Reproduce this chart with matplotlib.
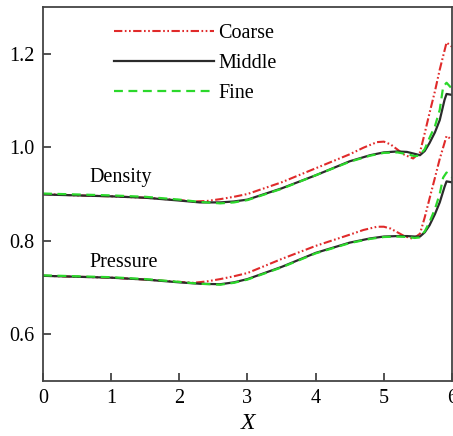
import matplotlib
matplotlib.use("Agg")
import matplotlib.pyplot as plt

plt.rcParams['font.family'] = ['Liberation Serif', 'DejaVu Serif']
plt.rcParams['mathtext.fontset'] = 'stix'

# density curves
x_coarse = [0, 0.5, 1, 1.5, 2, 2.2, 2.4, 2.6, 2.8, 3, 3.5, 4, 4.5, 4.7, 4.9, 5.0,
            5.1, 5.2, 5.3, 5.43, 5.53, 5.6, 5.67, 5.75, 5.82, 5.92, 6.0]
rho_coarse = [0.900, 0.897, 0.895, 0.892, 0.887, 0.884, 0.885, 0.889, 0.894, 0.900,
              0.925, 0.955, 0.985, 0.999, 1.011, 1.012, 1.006, 0.995, 0.984, 0.976,
              0.989, 1.030, 1.073, 1.120, 1.166, 1.224, 1.215]
p_coarse = [0.725, 0.723, 0.721, 0.717, 0.712, 0.710, 0.713, 0.718, 0.724, 0.731,
            0.761, 0.789, 0.813, 0.823, 0.830, 0.830, 0.826, 0.818, 0.810, 0.804,
            0.815, 0.850, 0.890, 0.935, 0.975, 1.024, 1.016]

x_middle = [0, 0.5, 1, 1.5, 2, 2.3, 2.6, 2.8, 3, 3.5, 4, 4.5, 4.8, 5.0, 5.2, 5.34,
            5.45, 5.53, 5.6, 5.67, 5.75, 5.82, 5.89, 5.92, 6.0]
rho_middle = [0.899, 0.897, 0.895, 0.892, 0.886, 0.882, 0.882, 0.884, 0.888, 0.912,
              0.940, 0.970, 0.983, 0.989, 0.991, 0.990, 0.986, 0.983, 0.992, 1.009,
              1.032, 1.058, 1.101, 1.114, 1.112]
p_middle = [0.725, 0.723, 0.721, 0.717, 0.711, 0.708, 0.707, 0.711, 0.718, 0.744,
            0.774, 0.796, 0.805, 0.809, 0.810, 0.810, 0.809, 0.809, 0.818, 0.833,
            0.857, 0.882, 0.915, 0.927, 0.925]

x_fine = [0, 0.5, 1, 1.5, 2, 2.3, 2.6, 2.8, 3, 3.5, 4, 4.5, 4.8, 5.0, 5.2, 5.35,
          5.45, 5.52, 5.6, 5.67, 5.75, 5.82, 5.87, 5.92, 6.0]
rho_fine = [0.901, 0.899, 0.897, 0.894, 0.888, 0.883, 0.880, 0.882, 0.887, 0.911,
            0.940, 0.969, 0.982, 0.988, 0.989, 0.985, 0.981, 0.982, 0.996, 1.020,
            1.045, 1.080, 1.129, 1.138, 1.125]
p_fine = [0.726, 0.724, 0.722, 0.718, 0.712, 0.708, 0.706, 0.710, 0.717, 0.743,
          0.773, 0.795, 0.804, 0.808, 0.809, 0.808, 0.806, 0.807, 0.820, 0.840,
          0.868, 0.900, 0.935, 0.946, 0.935]

xticks = [0, 1, 2, 3, 4, 5, 6]
yticks = [0.6, 0.8, 1.0, 1.2]

fig = plt.figure(figsize=(4.53, 4.36), dpi=100)
ax = fig.add_axes([43/453, 55/436, 409/453, 374/436])

red = '#e02a2a'
blk = '#2b2b2b'
grn = '#2bd82b'
dd = (4, 1.2, 0.8, 1.2, 0.8, 1.2)

ax.plot(x_coarse, rho_coarse, color=red, lw=1.5, dashes=dd, label='Coarse')
ax.plot(x_middle, rho_middle, color=blk, lw=1.6, label='Middle')
ax.plot(x_fine, rho_fine, color=grn, lw=1.6, dashes=(4, 2.5), label='Fine')
ax.plot(x_coarse, p_coarse, color=red, lw=1.5, dashes=dd)
ax.plot(x_middle, p_middle, color=blk, lw=1.6)
ax.plot(x_fine, p_fine, color=grn, lw=1.6, dashes=(4, 2.5))

ax.set_xlim(0, 6)
ax.set_ylim(0.5, 1.3)
ax.set_xticks(xticks)
ax.set_yticks(yticks)
ax.set_yticklabels(['0.6', '0.8', '1.0', '1.2'])
ax.tick_params(direction='in', length=6, width=1.3, labelsize=14.5,
               color='#444444', pad=6)
for s in ax.spines.values():
    s.set_linewidth(1.3)
    s.set_color('#444444')

ax.set_xlabel('X', fontsize=17, style='italic', labelpad=3)

ax.text(0.68, 0.925, 'Density', fontsize=14.5, va='baseline')
ax.text(0.68, 0.744, 'Pressure', fontsize=14.5, va='baseline')

ax.legend(loc='upper left', bbox_to_anchor=(0.138, 0.993), frameon=False,
          fontsize=14.5, handlelength=5.0, handletextpad=0.2,
          labelspacing=0.55, borderpad=0.2)

fig.savefig('out.png', dpi=100)
